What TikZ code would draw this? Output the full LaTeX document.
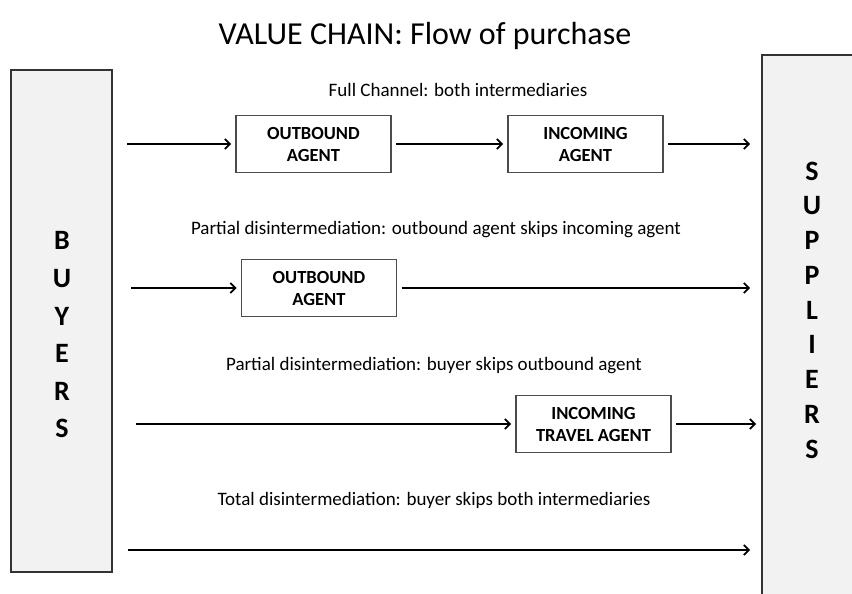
\documentclass[tikz,border=0pt]{standalone}
\usepackage{fontspec}
\setmainfont{Carlito}
\usetikzlibrary{arrows.meta}

\tikzset{
  agent/.style={draw=black!70, line width=1.1pt, minimum width=155pt, minimum height=57pt,
    outer sep=5pt, align=center, font=\bfseries\fontsize{18.5}{22}\selectfont},
  flow/.style={line width=1.9pt, -{Straight Barb[length=5pt,width=10pt,line width=1.7pt]}},
  caption/.style={font=\fontsize{19}{22}\selectfont},
  side/.style={draw=black!80, fill=black!5, line width=1.2pt},
  letters/.style={align=center, font=\bfseries\fontsize{28}{#1}\selectfont}
}

\begin{document}
\begin{tikzpicture}[x=1pt,y=-1pt]
  \useasboundingbox (0,0) rectangle (852,594);
  \clip (0,0) rectangle (852,594);

  % Draw the title
  \node (title) at (425,36) {\fontsize{32}{38}\selectfont VALUE CHAIN: Flow of purchase};

  % Draw the buyers and the suppliers
  \node[side, minimum width=101pt, minimum height=502pt] (buyers) at (61.5,321) {};
  \node[letters=37.6] (buyerstxt) at (62,335) {B\\U\\Y\\E\\R\\S};

  \node[side, minimum width=100pt, minimum height=549pt] (suppliers) at (812,329.5) {};
  \node[letters=34.75] (supptxt) at (812,310) {S\\U\\P\\P\\L\\I\\E\\R\\S};

  % Full channel
  \node[caption] (cap1) at (458,90) {Full Channel: both intermediaries};
  \node[agent] (out1) at (313.5,144) {OUTBOUND\\AGENT};
  \node[agent] (inc1) at (585.5,144) {INCOMING\\AGENT};
  \coordinate (s1) at (127,144);
  \coordinate (e1) at (750,144);
  \draw[flow] (s1) -- (out1);
  \draw[flow] (out1) -- (inc1);
  \draw[flow] (inc1) -- (e1);

  % Outbound agent skips incoming agent
  \node[caption] (cap2) at (436,230) {Partial disintermediation: outbound agent skips incoming agent};
  \node[agent] (out2) at (319,288) {OUTBOUND\\AGENT};
  \coordinate (s2) at (131,288);
  \coordinate (e2) at (750,288);
  \draw[flow] (s2) -- (out2);
  \draw[flow] (out2) -- (e2);

  % Buyer skips outbound agent
  \node[caption] (cap3) at (434,366) {Partial disintermediation: buyer skips outbound agent};
  \node[agent] (inc3) at (593.5,424) {INCOMING\\TRAVEL AGENT};
  \coordinate (s3) at (136,424);
  \coordinate (e3) at (756,424);
  \draw[flow] (s3) -- (inc3);
  \draw[flow] (inc3) -- (e3);

  % Buyer skips both
  \node[caption] (cap4) at (434,500) {Total disintermediation: buyer skips both intermediaries};
  \coordinate (s4) at (128,550);
  \coordinate (e4) at (750,550);
  \draw[flow] (s4) -- (e4);
\end{tikzpicture}
\end{document}
